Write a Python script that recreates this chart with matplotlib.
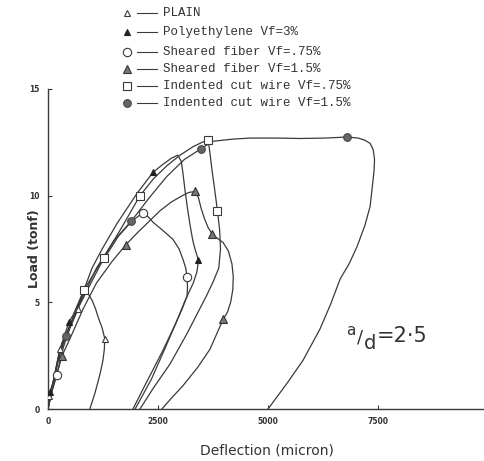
import matplotlib
matplotlib.use("Agg")
import matplotlib.pyplot as plt
from matplotlib.lines import Line2D

# deflection (micron) / load (tonf) paths
plain_x = [0, 30, 110, 270, 430, 570, 700, 820, 900, 1000, 1080, 1140, 1230, 1290,
           1280, 1250, 1200, 1140, 1060, 950]
plain_y = [0, 0.6, 1.2, 2.8, 3.6, 4.3, 4.9, 5.5, 5.45, 5.1, 4.7, 4.3, 3.8, 3.3,
           2.8, 2.3, 1.8, 1.3, 0.7, 0]
plain_mx = [30, 270, 680, 1290]
plain_my = [0.6, 2.8, 4.7, 3.3]

poly_x = [0, 40, 110, 270, 480, 570, 800, 1000, 1230, 1570, 2020, 2390, 2600, 2800,
          2950, 3030, 3070, 3110, 3170, 3230, 3290, 3340, 3400, 3410, 3380, 3300,
          3230, 3100, 2900, 2650, 2350, 1980]
poly_y = [0, 0.8, 1.2, 2.8, 4.1, 4.4, 5.5, 6.6, 7.5, 8.7, 10.1, 11.1, 11.45, 11.75,
          11.9, 11.6, 11.0, 10.3, 9.4, 8.6, 7.9, 7.5, 7.1, 6.8, 6.4, 5.9,
          5.6, 5.0, 4.0, 2.8, 1.4, 0]
poly_mx = [40, 480, 2390, 3405]
poly_my = [0.8, 4.1, 11.1, 7.0]

shf75_x = [0, 80, 200, 350, 500, 700, 900, 1200, 1600, 1900, 2160, 2280, 2390, 2620,
           2840, 2980, 3070, 3130, 3160, 3170, 3160, 3050, 2900, 2600, 2250, 1930]
shf75_y = [0, 0.8, 1.6, 2.9, 3.8, 4.8, 5.6, 6.8, 8.1, 8.8, 9.2, 9.0, 8.75, 8.35,
           7.95, 7.5, 7.0, 6.6, 6.2, 5.7, 5.3, 4.7, 4.0, 2.7, 1.3, 0]
shf75_mx = [200, 2160, 3160]
shf75_my = [1.6, 9.2, 6.2]

shf15_x = [0, 100, 320, 500, 800, 1100, 1450, 1770, 2050, 2300, 2550, 2800, 3050,
           3200, 3340, 3420, 3480, 3560, 3640, 3730, 3850, 3980, 4100, 4180, 4210,
           4200, 4150, 4080, 3980, 3850, 3680, 3400, 3070, 2800, 2590]
shf15_y = [0, 0.9, 2.5, 3.3, 4.7, 5.9, 6.9, 7.7, 8.3, 8.8, 9.3, 9.7, 10.0,
           10.15, 10.2, 9.9, 9.4, 8.9, 8.5, 8.2, 8.0, 7.8, 7.4, 6.8, 6.2,
           5.6, 5.0, 4.55, 4.2, 3.6, 2.8, 1.95, 1.1, 0.5, 0]
shf15_mx = [320, 1770, 3340, 3730, 3980]
shf15_my = [2.5, 7.7, 10.2, 8.2, 4.2]

icw75_x = [0, 100, 260, 420, 560, 820, 1270, 1700, 2090, 2400, 2700, 3000, 3300,
           3500, 3640, 3680, 3720, 3780, 3850, 3900, 3920, 3880, 3750, 3600, 3450,
           3150, 2770, 2400, 2090]
icw75_y = [0, 1.1, 2.6, 3.5, 4.2, 5.6, 7.1, 8.6, 10.0, 10.8, 11.4, 11.9, 12.3,
           12.5, 12.6, 12.0, 11.3, 10.4, 9.3, 8.4, 7.5, 6.6, 5.95, 5.3, 4.7,
           3.5, 2.1, 1.0, 0]
icw75_mx = [820, 1270, 2090, 3640, 3850]
icw75_my = [5.6, 7.1, 10.0, 12.6, 9.3]

icw15_x = [0, 100, 250, 400, 600, 800, 1100, 1500, 1890, 2300, 2700, 3100, 3480,
           3750, 4200, 4590, 5200, 5730, 6300, 6800, 7050, 7200, 7320, 7390, 7420,
           7410, 7390, 7320, 7200, 7020, 6840, 6640, 6420, 6180, 5800, 5430, 5000]
icw15_y = [0, 1.0, 2.4, 3.4, 4.3, 5.3, 6.6, 7.9, 8.8, 9.9, 10.9, 11.7, 12.2,
           12.55, 12.65, 12.7, 12.7, 12.68, 12.7, 12.75, 12.7, 12.6, 12.45, 12.15, 11.7,
           11.2, 10.8, 9.5, 8.6, 7.6, 6.8, 6.1, 4.9, 3.75, 2.3, 1.2, 0]
icw15_mx = [400, 1890, 3480, 6800]
icw15_my = [3.4, 8.8, 12.2, 12.75]

labels = ["PLAIN", "Polyethylene Vf=3%", "Sheared fiber Vf=.75%",
          "Sheared fiber Vf=1.5%", "Indented cut wire Vf=.75%",
          "Indented cut wire Vf=1.5%"]

line_col = "#3a3a3a"
styles = [
    dict(marker="^", mfc="white", mec=line_col, ms=5),
    dict(marker="^", mfc="#222222", mec="#222222", ms=5),
    dict(marker="o", mfc="white", mec=line_col, ms=6),
    dict(marker="^", mfc="#777777", mec="#333333", ms=5.5),
    dict(marker="s", mfc="white", mec=line_col, ms=5.5),
    dict(marker="o", mfc="#666666", mec="#444444", ms=5.5),
]

series = [
    (plain_x, plain_y, plain_mx, plain_my),
    (poly_x, poly_y, poly_mx, poly_my),
    (shf75_x, shf75_y, shf75_mx, shf75_my),
    (shf15_x, shf15_y, shf15_mx, shf15_my),
    (icw75_x, icw75_y, icw75_mx, icw75_my),
    (icw15_x, icw15_y, icw15_mx, icw15_my),
]

W, H = 485, 461
fig = plt.figure(figsize=(W / 100, H / 100), dpi=100)
ax = fig.add_axes([48 / W, 1 - 409 / H, 1 - 48 / W, (409 - 89) / H])

for (x, y, mx, my), st in zip(series, styles):
    ax.plot(x, y, color=line_col, lw=0.9, solid_joinstyle="round")
    ax.plot(mx, my, ls="none", mew=0.8, zorder=3, **st)

ax.set_xlim(0, 9930)
ax.set_ylim(0, 15)
ax.spines["top"].set_visible(False)
ax.spines["right"].set_visible(False)
for s in ["left", "bottom"]:
    ax.spines[s].set_color(line_col)
    ax.spines[s].set_linewidth(1.0)
ax.set_xticks([0, 2500, 5000, 7500])
ax.set_xticklabels(["0", "2500", "5000", "7500"], fontsize=5.5, fontweight="bold",
                   color="#333333")
ax.set_yticks([0, 5, 10, 15])
ax.set_yticklabels(["0", "5", "10", "15"], fontsize=5.5, fontweight="bold",
                   color="#333333")
ax.tick_params(direction="in", length=3, width=0.8, color=line_col, pad=6)

ax.set_xlabel("Deflection (micron)", fontsize=10, color="#333333", labelpad=12)
ax.set_ylabel("Load (tonf)", fontsize=9, fontweight="bold", color="#333333")
ax.yaxis.set_label_coords(-0.016, 0.5)

# a/d = 2.5 annotation, built from pieces
def px(x, y):
    return x / W, 1 - y / H

fig.text(*px(346, 330), "a", fontsize=11, color="#333333", ha="left", va="center")
fig.text(*px(357, 337), "/", fontsize=13, color="#333333", ha="left", va="center")
fig.text(*px(364, 343), "d", fontsize=14, color="#333333", ha="left", va="center")
fig.text(*px(377, 336), "=2\u00b75", fontsize=15, color="#333333", ha="left", va="center")

# typewriter legend above the plot
rows = [13, 32, 52, 69, 86, 103]
for lab, st, py in zip(labels, styles, rows):
    fy = 1 - py / H
    fig.add_artist(Line2D([127 / W], [fy], ls="none", mew=0.8,
                          transform=fig.transFigure, **st))
    fig.add_artist(Line2D([137 / W, 157 / W], [fy, fy], color=line_col, lw=0.8,
                          transform=fig.transFigure))
    fig.text(163 / W, fy, lab, fontsize=9, family="Liberation Mono",
             color="#333333", va="center")

fig.savefig("out.png", dpi=100)
